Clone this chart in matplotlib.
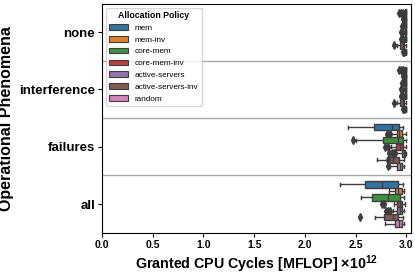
import matplotlib
matplotlib.use('Agg')
import matplotlib.pyplot as plt
from matplotlib.patches import Patch

plt.rcParams['font.family'] = ['Liberation Sans', 'DejaVu Sans']
plt.rcParams['mathtext.fontset'] = 'custom'
plt.rcParams['mathtext.bf'] = 'Liberation Sans:bold'
plt.rcParams['mathtext.rm'] = 'Liberation Sans'

# values in 10^12 MFLOP
categories = ['none', 'interference', 'failures', 'all']
policies = ['mem', 'mem-inv', 'core-mem', 'core-mem-inv',
            'active-servers', 'active-servers-inv', 'random']
colors = ['#3274a1', '#e1812c', '#3a923a', '#c03d3e',
          '#9372b2', '#845b53', '#d684bd']

# rows: categories, columns: policies
whislo = [
    [2.975, 2.985, 2.975, 2.975, 2.975, 2.91, 2.98],
    [2.975, 2.985, 2.975, 2.975, 2.975, 2.91, 2.98],
    [2.43, 2.84, 2.50, 2.85, 2.90, 2.71, 2.84],
    [2.35, 2.83, 2.55, 2.88, 2.87, 2.69, 2.79],
]
q1 = [
    [2.99, 2.99, 2.99, 2.99, 2.99, 2.94, 2.99],
    [2.99, 2.99, 2.99, 2.99, 2.99, 2.94, 2.99],
    [2.68, 2.91, 2.77, 2.90, 2.96, 2.81, 2.91],
    [2.59, 2.89, 2.66, 2.91, 2.91, 2.78, 2.89],
]
med = [
    [2.995, 2.995, 2.995, 2.995, 2.995, 2.965, 2.995],
    [2.995, 2.995, 2.995, 2.995, 2.995, 2.965, 2.995],
    [2.86, 2.93, 2.92, 2.94, 2.98, 2.87, 2.94],
    [2.76, 2.92, 2.82, 2.94, 2.94, 2.87, 2.93],
]
q3 = [
    [3.0, 3.0, 3.0, 3.0, 3.0, 2.98, 3.0],
    [3.0, 3.0, 3.0, 3.0, 3.0, 2.98, 3.0],
    [2.93, 2.96, 2.97, 2.97, 2.99, 2.93, 2.96],
    [2.92, 2.96, 2.94, 2.96, 2.96, 2.92, 2.96],
]
whishi = [
    [3.0, 3.0, 3.0, 3.0, 3.0, 2.995, 3.0],
    [3.0, 3.0, 3.0, 3.0, 3.0, 2.995, 3.0],
    [2.97, 3.0, 3.0, 3.0, 3.0, 2.98, 2.98],
    [2.97, 2.98, 2.98, 2.99, 2.98, 2.97, 2.98],
]
fliers = [
    [[2.93, 2.95, 2.965], [2.975, 2.97], [2.967, 2.96], [2.95, 2.96],
     [2.96, 2.95, 2.965], [2.88], [2.975, 2.97]],
    [[2.93, 2.95, 2.965], [2.975, 2.97], [2.967, 2.96], [2.95, 2.96],
     [2.96, 2.95, 2.965], [2.88], [2.975, 2.97]],
    [[], [2.81, 2.84], [2.47], [2.79, 2.82],
     [2.83, 2.86, 2.88, 2.89], [2.82], [2.82]],
    [[], [], [], [2.76, 2.78],
     [2.80, 2.82, 2.84], [2.54], []],
]

fig, ax = plt.subplots(figsize=(4.15, 2.76), dpi=100)
fig.subplots_adjust(left=0.246, right=0.99, bottom=0.157, top=0.987)

n = len(policies)
width = 0.8 / n
gray = '#3d3d3d'
for i, cat in enumerate(categories):
    for j, pol in enumerate(policies):
        stats = [dict(med=med[i][j], q1=q1[i][j], q3=q3[i][j],
                      whislo=whislo[i][j], whishi=whishi[i][j],
                      fliers=fliers[i][j])]
        pos = i + (j - (n - 1) / 2) * width
        ax.bxp(stats, positions=[pos], widths=width * 0.98, vert=False,
               patch_artist=True, manage_ticks=False,
               boxprops=dict(facecolor=colors[j], edgecolor=gray, linewidth=1),
               medianprops=dict(color=gray, linewidth=1),
               whiskerprops=dict(color=gray, linewidth=1),
               capprops=dict(color=gray, linewidth=1),
               flierprops=dict(marker='d', markersize=4, markerfacecolor=gray,
                               markeredgecolor=gray))

for k in range(len(categories) - 1):
    ax.axhline(k + 0.5, color='#a8a8a8', linewidth=1)

ax.set_ylim(len(categories) - 0.5, -0.5)
ax.set_xlim(0, 3.045)
ax.set_yticks(range(len(categories)))
ax.set_yticklabels(categories, fontsize=9.5, fontweight='bold')
ax.set_xticks([0, 0.5, 1.0, 1.5, 2.0, 2.5, 3.0])
ax.set_xticklabels(['0.0', '0.5', '1.0', '1.5', '2.0', '2.5', '3.0'],
                   fontsize=7.5, fontweight='bold')
ax.tick_params(length=3, width=0.8, pad=2)
ax.set_ylabel('Operational Phenomena', fontsize=11.5, fontweight='bold')
ax.set_xlabel(r'Granted CPU Cycles [MFLOP] $\mathbf{\times10^{12}}$',
              fontsize=10.3, fontweight='bold', labelpad=3)

handles = [Patch(facecolor=c, edgecolor=gray, linewidth=0.8) for c in colors]
leg = ax.legend(handles, policies, title='Allocation Policy', loc='upper left',
                fontsize=5.9, title_fontsize=6.3, handlelength=2.3,
                labelspacing=0.5, framealpha=0.8)
leg.get_title().set_fontweight('bold')

fig.savefig('out.png', dpi=100)
